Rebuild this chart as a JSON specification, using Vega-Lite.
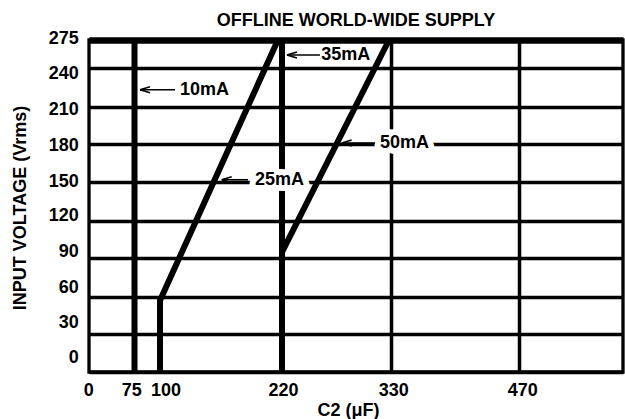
{
  "$schema": "https://vega.github.io/schema/vega-lite/v6.json",
  "width": 534,
  "height": 332,
  "autosize": {"type": "none"},
  "padding": {"left": 89, "top": 40, "right": 2, "bottom": 47},
  "background": "white",
  "config": {
    "view": {"stroke": "black", "strokeWidth": 3.3},
    "font": "Liberation Sans"
  },
  "title": {
    "text": "OFFLINE WORLD-WIDE SUPPLY",
    "font": "Liberation Sans",
    "fontSize": 18,
    "fontWeight": "bold",
    "color": "black",
    "baseline": "alphabetic",
    "offset": -16,
    "anchor": "middle"
  },
  "datasets": {
    "curves": [
      {"series": "10mA", "i": 0, "c2": 75, "v": 0},
      {"series": "10mA", "i": 1, "c2": 75, "v": 275},
      {"series": "25mA", "i": 0, "c2": 100, "v": 0},
      {"series": "25mA", "i": 1, "c2": 100, "v": 57},
      {"series": "25mA", "i": 2, "c2": 216, "v": 275},
      {"series": "35mA", "i": 0, "c2": 220, "v": 0},
      {"series": "35mA", "i": 1, "c2": 220, "v": 275},
      {"series": "50mA", "i": 0, "c2": 220, "v": 95},
      {"series": "50mA", "i": 1, "c2": 328, "v": 275}
    ],
    "notes": [
      {"label": "10mA", "tip": 80.4, "tail": 114.8, "tx": 119.7, "v": 223},
      {"label": "25mA", "tip": 160.7, "tail": 186.6, "tx": 193.4, "v": 152},
      {"label": "35mA", "tip": 225, "tail": 258.3, "tx": 259.5, "v": 256},
      {"label": "50mA", "tip": 280.2, "tail": 313.9, "tx": 318.9, "v": 181}
    ]
  },
  "layer": [
    {
      "data": {"name": "curves"},
      "mark": {"type": "line", "color": "black", "strokeWidth": 6, "strokeCap": "butt"},
      "encoding": {
        "x": {
          "field": "c2",
          "type": "quantitative",
          "title": "C2 (μF)",
          "scale": {"domain": [0, 75, 100, 220, 330, 470, 583.5], "range": [0, 45.5, 71, 193, 302, 430.3, 534], "zero": false, "nice": false},
          "axis": {
            "values": [0, 75, 100, 220, 330, 470],
            "tickCount": 30,
            "ticks": false,
            "tickSize": 0,
            "domain": false,
            "labelPadding": 9,
            "labelFont": "Liberation Sans",
            "labelFontSize": 18,
            "labelFontWeight": "bold",
            "labelColor": "black",
            "labelFlush": false,
            "labelOverlap": false,
            "labelBound": false,
            "labelOffset": {
              "condition": [
                {"test": "datum.value == 75", "value": -3.2},
                {"test": "datum.value == 100", "value": 5.5},
                {"test": "datum.value == 220", "value": 1},
                {"test": "datum.value == 330", "value": 2.3},
                {"test": "datum.value == 470", "value": 3}
              ],
              "value": -0.7
            },
            "grid": true,
            "gridColor": "black",
            "gridWidth": 3.5,
            "gridOpacity": {"condition": {"test": "datum.value < 300", "value": 0}, "value": 1},
            "titleFont": "Liberation Sans",
            "titleFontSize": 18,
            "titleFontWeight": "bold",
            "titleColor": "black",
            "titleX": 259,
            "titleY": 43.5,
            "titleAlign": "center",
            "titleBaseline": "alphabetic"
          }
        },
        "y": {
          "field": "v",
          "type": "quantitative",
          "title": "INPUT VOLTAGE (Vrms)",
          "scale": {"domain": [0, 30, 60, 90, 120, 150, 180, 210, 240, 275], "range": [332, 294.3, 256.7, 218.3, 180.7, 142.3, 104.3, 66.7, 27.7, 0], "zero": false, "nice": false},
          "axis": {
            "values": [0, 30, 60, 90, 120, 150, 180, 210, 240, 275],
            "tickCount": 30,
            "ticks": false,
            "tickSize": 0,
            "domain": false,
            "labelPadding": 10.7,
            "labelFont": "Liberation Sans",
            "labelFontSize": 18,
            "labelFontWeight": "bold",
            "labelColor": "black",
            "labelFlush": false,
            "labelOverlap": false,
            "labelBound": false,
            "labelOffset": {
              "condition": [
                {"test": "datum.value == 0", "value": -14.6},
                {"test": "datum.value == 30", "value": -11.6},
                {"test": "datum.value == 60", "value": -9.7},
                {"test": "datum.value == 90", "value": -6.6},
                {"test": "datum.value == 120", "value": -5.7},
                {"test": "datum.value == 150", "value": -1.3},
                {"test": "datum.value == 180", "value": 1},
                {"test": "datum.value == 210", "value": 2.6},
                {"test": "datum.value == 240", "value": 5.8},
                {"test": "datum.value == 275", "value": -1.5}
              ],
              "value": 0
            },
            "grid": true,
            "gridColor": "black",
            "gridOpacity": 1,
            "gridWidth": {"condition": {"test": "datum.value == 275", "value": 6.6}, "value": 3.3},
            "titleFont": "Liberation Sans",
            "titleFontSize": 18,
            "titleFontWeight": "bold",
            "titleColor": "black",
            "titleX": -64,
            "titleY": 167.5,
            "titleAngle": 270,
            "titleAlign": "center",
            "titleBaseline": "alphabetic"
          }
        },
        "detail": {"field": "series"},
        "order": {"field": "i", "type": "quantitative"}
      }
    },
    {
      "data": {"name": "notes"},
      "transform": [{"filter": {"field": "label", "oneOf": ["25mA", "50mA"]}}],
      "mark": {"type": "text", "align": "left", "baseline": "middle", "font": "Liberation Sans", "fontSize": 18, "fontWeight": "bold", "fill": "white", "stroke": "white", "strokeWidth": 12, "strokeJoin": "round"},
      "encoding": {
        "x": {"field": "tx", "type": "quantitative", "title": "C2 (μF)"},
        "y": {"field": "v", "type": "quantitative", "title": "INPUT VOLTAGE (Vrms)"},
        "text": {"field": "label"}
      }
    },
    {
      "data": {"name": "notes"},
      "mark": {"type": "rule", "color": "black", "strokeWidth": 1.6},
      "encoding": {
        "x": {"field": "tip", "type": "quantitative", "title": "C2 (μF)"},
        "x2": {"field": "tail"},
        "y": {"field": "v", "type": "quantitative", "title": "INPUT VOLTAGE (Vrms)"}
      }
    },
    {
      "data": {"name": "notes"},
      "mark": {"type": "point", "shape": "M0,0L2,-0.6M0,0L2,0.6", "size": 100, "filled": false, "stroke": "black", "strokeWidth": 1.6, "opacity": 1},
      "encoding": {
        "x": {"field": "tip", "type": "quantitative", "title": "C2 (μF)"},
        "y": {"field": "v", "type": "quantitative", "title": "INPUT VOLTAGE (Vrms)"}
      }
    },
    {
      "data": {"name": "notes"},
      "mark": {"type": "text", "align": "left", "baseline": "middle", "font": "Liberation Sans", "fontSize": 18, "fontWeight": "bold", "color": "black"},
      "encoding": {
        "x": {"field": "tx", "type": "quantitative", "title": "C2 (μF)"},
        "y": {"field": "v", "type": "quantitative", "title": "INPUT VOLTAGE (Vrms)"},
        "text": {"field": "label"}
      }
    }
  ]
}
